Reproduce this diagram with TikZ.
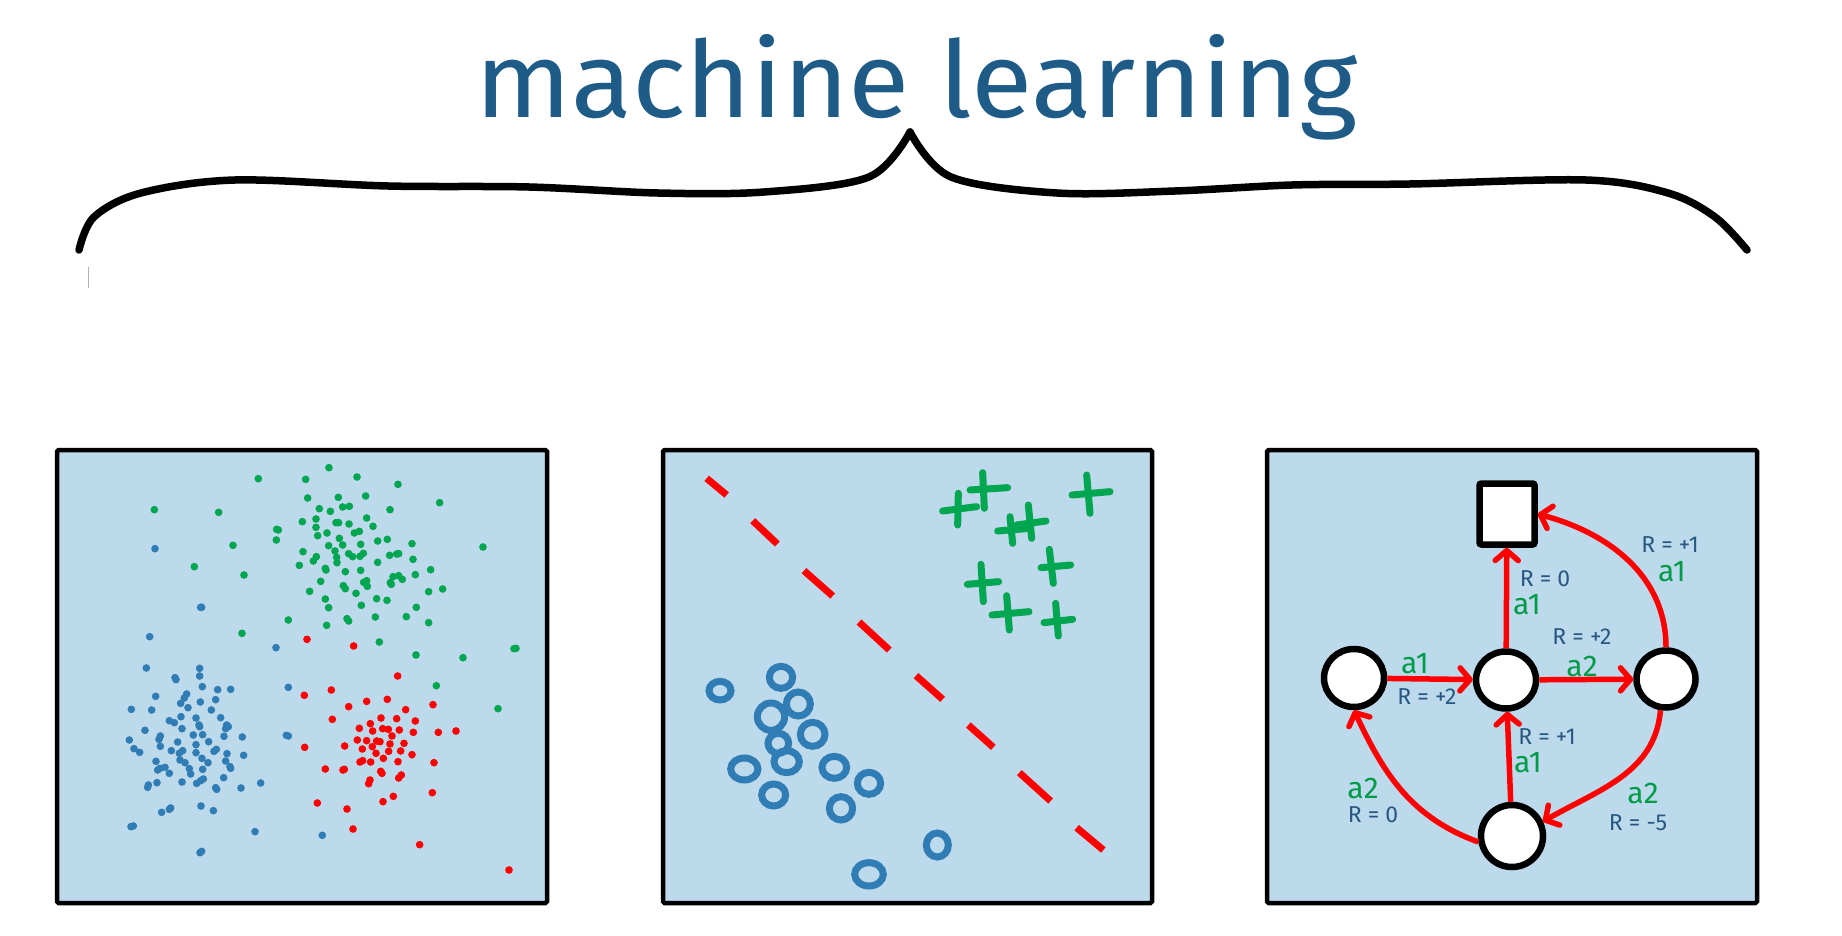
\documentclass[tikz,border=0pt]{standalone}
\usepackage{graphicx}
\usepackage{fontspec}
\setmainfont{Fira Sans}
\usetikzlibrary{arrows.meta,shapes.geometric}
\definecolor{panelbg}{RGB}{189,218,236}
\definecolor{titleblue}{RGB}{31,91,135}
\definecolor{dotblue}{RGB}{47,125,180}
\definecolor{dotgreen}{RGB}{0,166,80}
\definecolor{dotred}{RGB}{255,0,0}
\definecolor{labelblue}{RGB}{40,88,130}
\definecolor{labelgreen}{RGB}{0,155,70}
\tikzset{
  panel/.style={draw=black, fill=panelbg, line width=4.5pt, rounded corners=1.5pt},
  bracestroke/.style={draw=black, line width=7.5pt, line cap=round, line join=round},
  bdot/.style={fill=dotblue},
  gdot/.style={fill=dotgreen},
  rdot/.style={fill=dotred},
  sepdash/.style={draw=dotred, line width=7pt},
  plusstroke/.style={draw=dotgreen, line width=7pt, line cap=round},
  ring/.style={draw=dotblue, line width=7pt},
  state/.style={ellipse, draw=black, fill=white, line width=6.5pt, inner sep=0pt},
  goalbox/.style={rectangle, draw=black, fill=white, line width=6.5pt, inner sep=0pt, rounded corners=2pt},
  act/.style={draw=dotred, line width=5.5pt, -{Straight Barb[length=10pt,width=23pt,round]}},
  rlab/.style={text=labelblue, font=\fontsize{23}{25}\selectfont, inner sep=0pt},
  alab/.style={text=labelgreen, font=\fontsize{30}{32}\selectfont, inner sep=0pt},
}
\begin{document}
\begin{tikzpicture}[x=1pt,y=-1pt]
\useasboundingbox[fill=white] (0,0) rectangle (1842,936);

% title
\node[anchor=base west, inner sep=0pt, text=titleblue] (title) at (475,118)
  {\resizebox{882pt}{83pt}{machine learning}};

% brace
\draw[bracestroke] plot[smooth, tension=0.55] coordinates {
  (79,250) (94,217) (141,193) (235,180) (388,186) (529,187) (658,193) (764,192) (869,177) (910,132)};
\draw[bracestroke] plot[smooth, tension=0.55] coordinates {
  (910,132) (951,177) (1057,193) (1175,191) (1292,185) (1410,184) (1586,180) (1668,193) (1715,217) (1747,250)};
\draw[gray!60, line width=0.8pt] (88,267) -- (88,288);

% panels
\draw[panel] (57,450) rectangle (547,903);
\draw[panel] (663,450) rectangle (1152,903);
\draw[panel] (1267,450) rectangle (1757,903);

% ---------- panel 1: clusters ----------
\begin{scope}[shift={(50,440)}, scale=1/3]
\foreach \x/\y in {837/83,625/116,767/118,921/111,1044/133,313/209,506/217,773/174,865/172,947/168,1169/188,808/206,841/214,878/201,898/199,1020/209,757/245,798/237,858/248,866/248,897/252,950/234,969/259,680/268,685/270,798/262,679/300,803/287,831/279,868/295,913/279,928/274,983/303,1012/298,1086/311,1299/321,549/316,836/317,878/315,932/313,759/335,855/333,896/341,908/350,930/349,940/340,1019/346,1040/342,1046/341,1089/358,799/350,790/363,860/352,861/368,748/376,983/367,433/380,826/385,828/390,886/395,932/391,1142/389,582/405,1096/404,1029/410,1046/407,1057/418,1021/428,1024/433,812/424,880/437,886/446,941/427,950/422,952/439,1178/447,779/454,918/460,1136/455,826/477,980/476,1011/481,836/503,934/496,1099/502,715/540,891/536,896/543,976/531,1069/530,1136/548,830/556,576/580,988/606,1098/645,1239/653,1392/626,1398/625,1159/737,1344/806}
  \fill[gdot] (\x,\y) circle[radius=11.5];
\foreach \x/\y in {315/326,452/502,455/502,299/590,678/623,289/684,449/685,449/708,375/713,378/719,457/740,503/749,542/748,715/742,410/762,403/774,317/769,497/779,392/790,451/786,414/803,244/808,305/810,484/810,393/830,438/834,512/833,358/842,373/848,447/855,449/860,530/855,535/860,527/866,396/866,285/871,430/885,458/884,522/889,577/891,709/886,715/888,238/900,331/888,327/898,476/905,383/906,438/914,331/919,252/926,269/937,364/932,398/932,388/940,438/938,492/934,499/928,531/941,581/946,456/955,390/960,405/968,474/968,527/963,318/964,345/982,323/990,330/985,418/986,540/980,542/985,458/988,358/1000,422/1002,321/1028,396/1026,440/1030,460/1017,452/1022,521/1013,632/1029,295/1035,293/1042,497/1043,500/1048,573/1044,453/1098,335/1117,358/1108,362/1104,490/1112,243/1160,250/1158,615/1175,817/1186,450/1238,455/1234}
  \fill[bdot] (\x,\y) circle[radius=11.5];
\foreach \x/\y in {771/598,911/618,1043/708,844/750,763/766,950/784,1012/778,896/800,1067/809,1149/794,847/838,993/834,1040/836,1096/843,928/865,961/851,968/873,998/866,1015/868,1048/870,1090/877,1165/877,1218/873,1026/888,922/900,950/902,980/903,990/905,1020/912,1062/910,884/918,937/927,967/920,1016/934,1052/933,764/922,1086/944,978/940,1000/955,930/966,938/962,962/966,1044/965,1152/968,826/987,879/990,883/988,992/994,996/1000,1054/1005,1046/1014,960/1020,956/1031,1147/1058,802/1089,1030/1069,999/1085,891/1107,909/1167,1109/1214,1377/1290}
  \fill[rdot] (\x,\y) circle[radius=11.5];
\end{scope}

% ---------- panel 2: classification ----------
\begin{scope}[shift={(660,440)}, scale=1/3]
\foreach \a/\b/\c/\d in {140/115/200/165,278/242/352/312,432/392/518/468,597/546/688/630,768/707/848/778,925/855/1000/922,1078/998/1172/1083,1250/1163/1330/1230}
  \draw[sepdash] (\a,\b) -- (\c,\d);
\foreach \va/\vb/\vc/\vd/\ha/\hb/\hc/\hd in {
  895/160/893/255/848/213/950/200,
  968/98/973/205/930/150/1043/143,
  1050/230/1058/310/1013/273/1098/266,
  1105/195/1115/295/1070/255/1158/243,
  1280/105/1290/220/1236/165/1350/155,
  1168/328/1180/430/1143/383/1232/375,
  963/373/970/485/922/433/1016/425,
  1040/467/1048/570/996/525/1107/515,
  1187/490/1195/588/1152/548/1238/538}
  {\draw[plusstroke] (\va,\vb) -- (\vc,\vd); \draw[plusstroke] (\ha,\hb) -- (\hc,\hd);}
\foreach \x/\y/\rx/\ry in {180/752/33/28,363/712/35/33,415/792/36/36,333/830/41/41,355/910/31/30,458/883/37/36,380/965/38/33,253/987/41/33,523/982/37/33,341/1065/36/33,627/1030/35/33,543/1105/35/35,832/1215/33/36,627/1303/43/35}
  \draw[ring] (\x,\y) ellipse[x radius=\rx, y radius=\ry];
\end{scope}

% ---------- panel 3: MDP ----------
\node[goalbox, minimum width=55pt, minimum height=61pt] (goal) at (1507,514) {};
\node[state, minimum width=60pt, minimum height=58pt] (L) at (1354,678) {};
\node[state, minimum width=60pt, minimum height=57pt] (M) at (1506,680) {};
\node[state, minimum width=59pt, minimum height=57pt] (Rn) at (1666,679) {};
\node[state, minimum width=62pt, minimum height=62pt] (B) at (1512,836) {};

\draw[act] (L) -- (M);
\draw[act] (M) -- (Rn);
\draw[act] (M) -- (goal);
\draw[act] (B) -- (M);
\draw[act] (Rn.north) to[out=90, in=-15] (goal.east);
\draw[act] (Rn.-100) to[out=-95, in=30] (B.25);
\draw[act] (B.190) to[out=160, in=-65] (L.south);

\node[alab] (l1a) at (1415,664) {a1};
\node[rlab] (l1r) at (1427,697) {R = +2};
\node[rlab] (l2r) at (1582,637) {R = +2};
\node[alab] (l2a) at (1582,666) {a2};
\node[rlab] (l3r) at (1545,579) {R = 0};
\node[alab] (l3a) at (1527,605) {a1};
\node[rlab] (l4r) at (1670,545) {R = +1};
\node[alab] (l4a) at (1672,572) {a1};
\node[rlab] (l5r) at (1547,737) {R = +1};
\node[alab] (l5a) at (1528,763) {a1};
\node[alab] (l6a) at (1363,788) {a2};
\node[rlab] (l6r) at (1373,815) {R = 0};
\node[alab] (l7a) at (1643,793) {a2};
\node[rlab] (l7r) at (1638,823) {R = -5};
\end{tikzpicture}
\end{document}
